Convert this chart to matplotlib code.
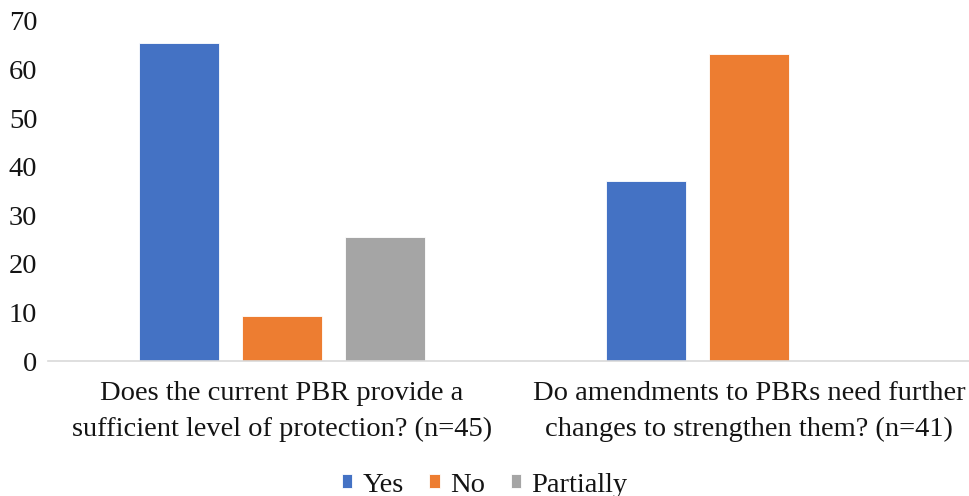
import numpy as np
import matplotlib.pyplot as plt

plt.rcParams['font.family'] = ['Liberation Serif', 'DejaVu Serif']

questions = [
    "Does the current PBR provide a\nsufficient level of protection? (n=45)",
    "Do amendments to PBRs need further\nchanges to strengthen them? (n=41)",
]
answers = ["Yes", "No", "Partially"]
yes = [65.4, 37.0]
no = [9.2, 63.2]
partially = [25.5, 0]
colors = ["#4472C4", "#ED7D31", "#A5A5A5"]

fig = plt.figure(figsize=(9.69, 4.96), dpi=100)
ax = fig.add_axes([0.05, 0.272, 0.964, 0.686])

x = np.arange(len(questions))
width = 0.173
step = 0.2205
series = [yes, no, partially]
for i, (name, vals, c) in enumerate(zip(answers, series, colors)):
    ax.bar(x + (i - 1) * step, vals, width, color=c, label=name,
           edgecolor="white", linewidth=0.6, zorder=2)

txt = "#141414"
ax.set_xlim(-0.5, 1.5)
ax.set_ylim(0, 70)
ax.set_yticks(range(0, 71, 10))
ax.set_xticks(x)
ax.set_xticklabels(questions, fontsize=20.5, linespacing=1.58)
ax.tick_params(axis="y", length=0, pad=8, labelsize=20.5, colors=txt)
ax.tick_params(axis="x", length=0, pad=14, colors=txt)

for s in ["top", "right", "left"]:
    ax.spines[s].set_visible(False)
ax.spines["bottom"].set_color("#D9D9D9")
ax.spines["bottom"].set_linewidth(1.2)

fig.legend(loc="center", bbox_to_anchor=(0.5, 0.022), ncol=3, frameon=False,
           fontsize=20.5, handlelength=0.38, handleheight=0.38, handletextpad=0.35,
           columnspacing=0.9, labelcolor=txt)

fig.savefig("out.png", dpi=100)
